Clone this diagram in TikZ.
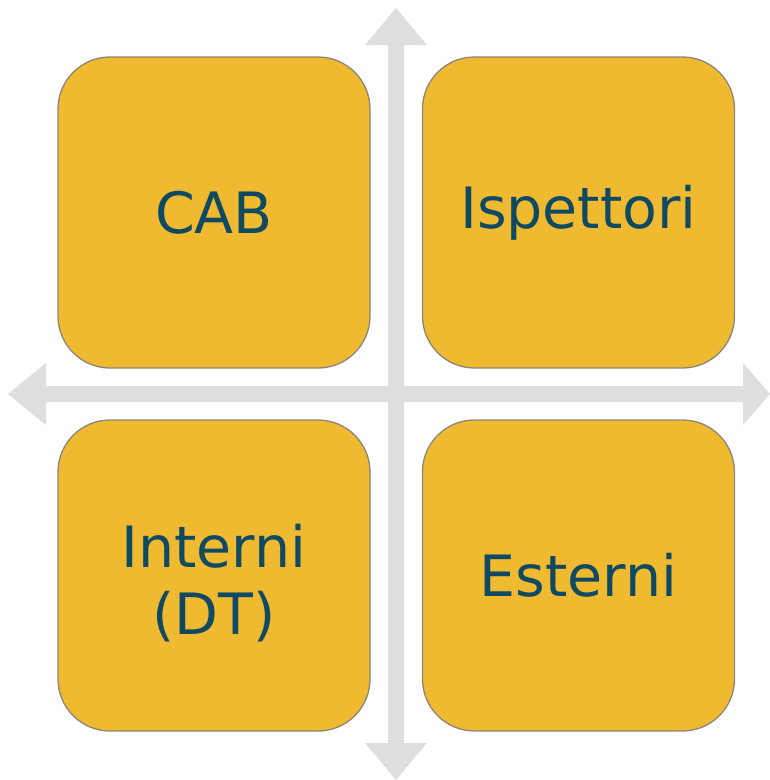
\documentclass[tikz,border=0pt]{standalone}
\usepackage{fontspec}
\setmainfont{DejaVu Sans}
\definecolor{boxfill}{HTML}{F0BA30}
\definecolor{boxtext}{HTML}{0F4A62}
\definecolor{boxline}{HTML}{8C8579}
\definecolor{arrowgrey}{HTML}{DEDEDE}
\begin{document}
\begin{tikzpicture}[x=1pt,y=-1pt,
  quad/.style={draw=boxline, line width=1.3pt, fill=boxfill, rounded corners=52pt,
    minimum width=312pt, minimum height=311pt, inner sep=0pt, text=boxtext,
    align=center, font=\fontsize{57}{67}\selectfont},
  axis/.style={fill=arrowgrey}]
\useasboundingbox (0,0) rectangle (770,780);
% vertical double arrow
\fill[axis] (396,8) -- (427,45) -- (404,45) -- (404,743) -- (427,743) -- (396,780)
  -- (365,743) -- (388,743) -- (388,45) -- (365,45) -- cycle;
% horizontal double arrow
\fill[axis] (8,394) -- (46,363) -- (46,386) -- (743,386) -- (743,363) -- (770,394)
  -- (743,425) -- (743,402) -- (46,402) -- (46,425) -- cycle;
\node[quad] (cab) at (214,212.5) {CAB};
\node[quad] (isp) at (578.5,212.5) {Ispettori};
\node[quad] (int) at (214,575.5) {};
\node[text=boxtext, align=center, font=\fontsize{57}{67}\selectfont, inner sep=0pt]
  (intlabel) at ([yshift=-8pt]int.center) {Interni\\(DT)};
\node[quad] (est) at (578.5,575.5) {Esterni};
\end{tikzpicture}
\end{document}
